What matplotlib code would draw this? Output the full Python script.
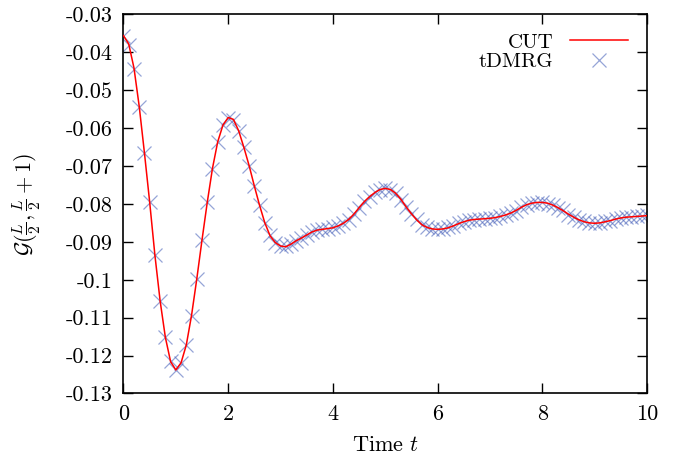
import numpy as np
import matplotlib
matplotlib.use("Agg")
import matplotlib.pyplot as plt

plt.rcParams["font.family"] = "serif"
plt.rcParams["font.serif"] = ["cmr10"]
plt.rcParams["mathtext.fontset"] = "cm"
plt.rcParams["axes.unicode_minus"] = False
plt.rcParams["axes.formatter.use_mathtext"] = True

# time grid of the runs (step 0.1 up to t = 10)
time = np.linspace(0, 10, 101)

# flow-equation (CUT) result
g_cut = [
    -0.0356, -0.0378, -0.0441, -0.0542, -0.0665, -0.0795, -0.0935, -0.1056, -0.1152, -0.1216,
    -0.1238, -0.1219, -0.1172, -0.1094, -0.0998, -0.0895, -0.0796, -0.0706, -0.0636, -0.0592,
    -0.0572, -0.0577, -0.0607, -0.0651, -0.0699, -0.0753, -0.0804, -0.0850, -0.0884, -0.0902,
    -0.0911, -0.0913, -0.0906, -0.0897, -0.0890, -0.0882, -0.0874, -0.0869, -0.0867, -0.0865,
    -0.0863, -0.0858, -0.0851, -0.0841, -0.0827, -0.0810, -0.0794, -0.0781, -0.0770, -0.0762,
    -0.0759, -0.0762, -0.0772, -0.0788, -0.0808, -0.0826, -0.0842, -0.0855, -0.0862, -0.0866,
    -0.0867, -0.0866, -0.0863, -0.0858, -0.0852, -0.0847, -0.0843, -0.0841, -0.0840, -0.0839,
    -0.0838, -0.0836, -0.0833, -0.0829, -0.0824, -0.0817, -0.0809, -0.0802, -0.0798, -0.0796,
    -0.0796, -0.0798, -0.0803, -0.0810, -0.0818, -0.0827, -0.0835, -0.0842, -0.0847, -0.0850,
    -0.0851, -0.0850, -0.0847, -0.0844, -0.0840, -0.0837, -0.0835, -0.0834, -0.0833, -0.0832,
    -0.0831,
]

# tDMRG reference data
g_dmrg = [
    -0.0357, -0.0380, -0.0443, -0.0543, -0.0666, -0.0796, -0.0934, -0.1055, -0.1152, -0.1215,
    -0.1237, -0.1220, -0.1173, -0.1095, -0.0997, -0.0894, -0.0796, -0.0707, -0.0636, -0.0592,
    -0.0573, -0.0578, -0.0607, -0.0651, -0.0700, -0.0753, -0.0804, -0.0850, -0.0883, -0.0903,
    -0.0911, -0.0912, -0.0905, -0.0897, -0.0889, -0.0883, -0.0874, -0.0870, -0.0866, -0.0866,
    -0.0862, -0.0859, -0.0850, -0.0842, -0.0826, -0.0811, -0.0793, -0.0782, -0.0769, -0.0763,
    -0.0758, -0.0763, -0.0771, -0.0789, -0.0807, -0.0827, -0.0841, -0.0856, -0.0861, -0.0867,
    -0.0866, -0.0867, -0.0862, -0.0859, -0.0851, -0.0848, -0.0842, -0.0842, -0.0839, -0.0840,
    -0.0837, -0.0837, -0.0832, -0.0830, -0.0823, -0.0818, -0.0808, -0.0803, -0.0797, -0.0797,
    -0.0795, -0.0799, -0.0802, -0.0811, -0.0817, -0.0828, -0.0834, -0.0843, -0.0846, -0.0851,
    -0.0850, -0.0851, -0.0846, -0.0845, -0.0839, -0.0838, -0.0834, -0.0835, -0.0832, -0.0833,
    -0.0830,
]

x_ticks = [0, 2, 4, 6, 8, 10]
x_labels = ["0", "2", "4", "6", "8", "10"]
y_ticks = [-0.13, -0.12, -0.11, -0.10, -0.09, -0.08, -0.07, -0.06, -0.05, -0.04, -0.03]
y_labels = ["-0.13", "-0.12", "-0.11", "-0.1", "-0.09", "-0.08", "-0.07", "-0.06", "-0.05", "-0.04", "-0.03"]

fig = plt.figure(figsize=(6.77, 4.57), dpi=100)
ax = fig.add_axes([0.1824, 0.139, 0.7733, 0.8295])

ax.plot(time, g_cut, color="#ff0000", lw=1.1, label="CUT", zorder=3)
ax.plot(time, g_dmrg, ls="none", marker="x", ms=10, mew=0.9,
        color="#4f68bd", alpha=0.6, label="tDMRG", zorder=2)

ax.set_xlim(0, 10)
ax.set_ylim(-0.13, -0.03)
ax.set_xticks(x_ticks)
ax.set_xticklabels(x_labels)
ax.set_yticks(y_ticks)
ax.set_yticklabels(y_labels)
ax.tick_params(direction="in", length=7, width=1, top=True, right=True,
               labelsize=16, pad=8)
for s in ax.spines.values():
    s.set_linewidth(1.2)

ax.set_xlabel(r"Time $t$", fontsize=16, labelpad=8)
ax.set_ylabel(r"$\mathcal{G}(\frac{L}{2},\frac{L}{2}+1)$", fontsize=16, labelpad=16)

ax.legend(loc="upper right", frameon=False, markerfirst=False, fontsize=15,
          handlelength=2.8, handletextpad=0.8, labelspacing=0.05,
          borderaxespad=0.5)

fig.savefig("out.png", dpi=100)
